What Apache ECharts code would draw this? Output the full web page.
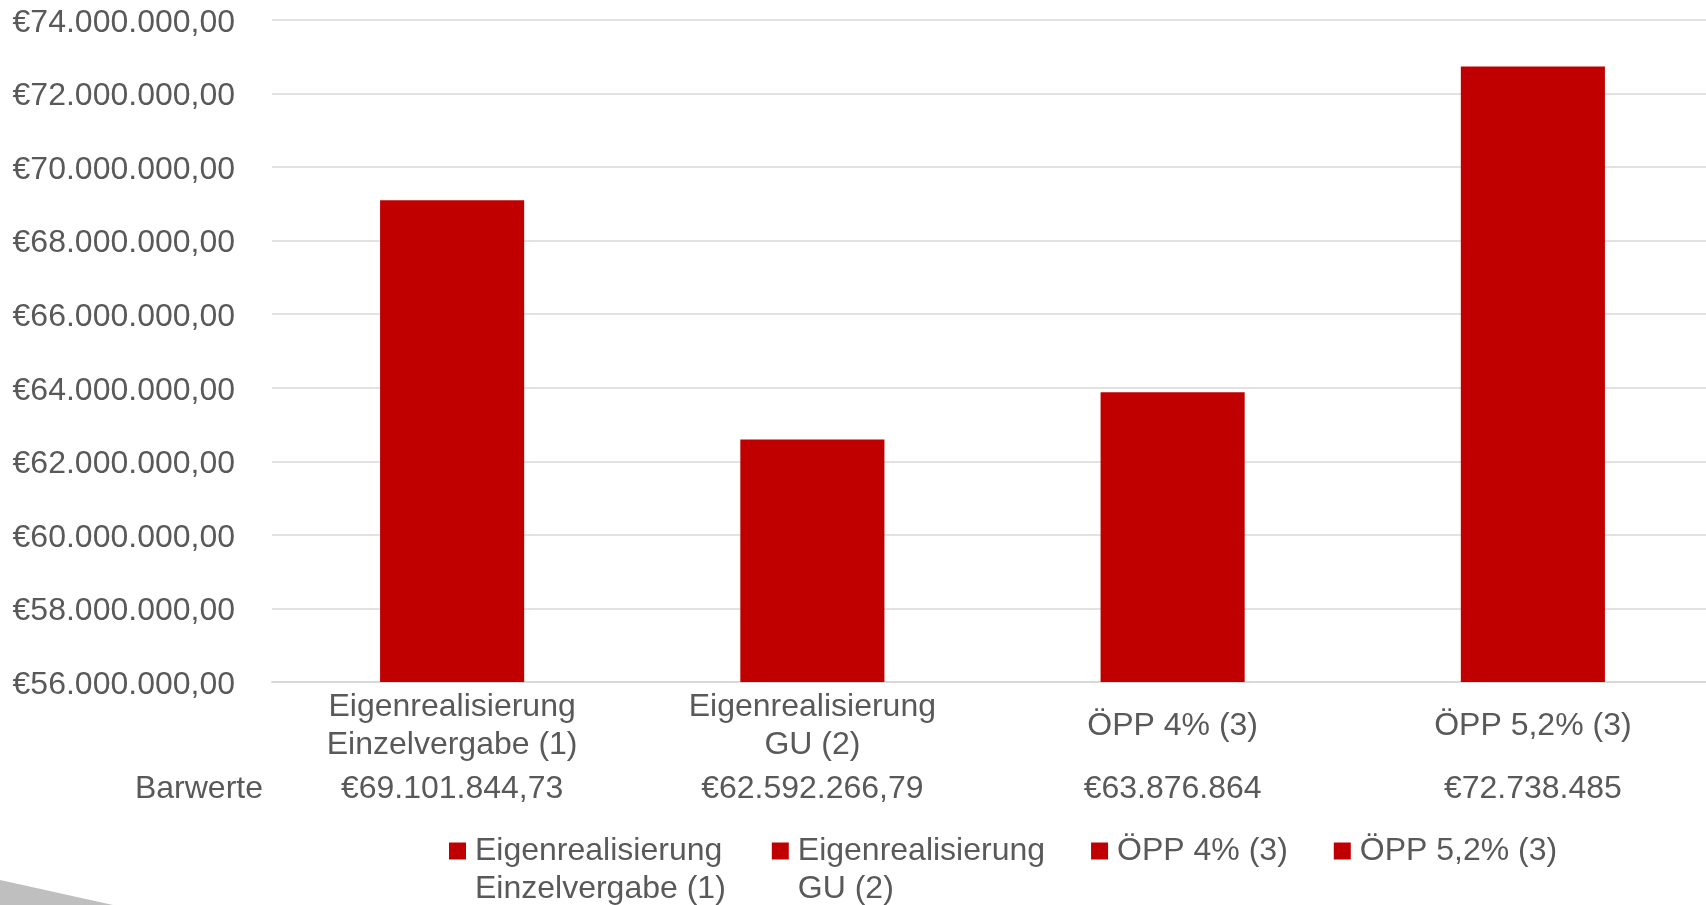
<!DOCTYPE html>
<html>
<head>
<meta charset="utf-8">
<title>Barwerte</title>
<script src="https://cdn.jsdelivr.net/npm/echarts@6/dist/echarts.min.js"></script>
<style>
  html, body { margin: 0; padding: 0; background: #ffffff; }
  #chart { width: 1706px; height: 905px; }
</style>
</head>
<body>
<div id="chart"></div>
<script>
// Variants compared (category labels, with line breaks as shown on the axis)
const categories = [
  'Eigenrealisierung\nEinzelvergabe (1)',
  'Eigenrealisierung\nGU (2)',
  'ÖPP 4% (3)',
  'ÖPP 5,2% (3)'
];
// Present values (Barwerte) in euro
const barwerte = [69101844.73, 62592266.79, 63876864, 72738485];
// Decimal places used when printing each present value
const barwertDecimals = [2, 2, 0, 0];
// Value axis range
const axisMin = 56000000;
const axisMax = 74000000;
const axisStep = 2000000;

const FONT = '"Liberation Sans", Arial, sans-serif';
const TEXT_COLOR = '#595959';
const GRID_COLOR = '#d9d9d9';
const BAR_COLOR = '#c00000';

// German number format with euro sign, e.g. €69.101.844,73
function euro(v, dec) {
  const parts = Math.abs(v).toFixed(dec).split('.');
  const intPart = parts[0].replace(/\B(?=(\d{3})+(?!\d))/g, '.');
  return '€' + intPart + (dec > 0 ? ',' + parts[1] : '');
}

// One series per variant, stacked so each bar sits centred in its category
const series = categories.map((name, i) => ({
  name: name,
  type: 'bar',
  stack: 'barwerte',
  barWidth: '40%',
  itemStyle: { color: BAR_COLOR },
  data: categories.map((c, j) => (j === i ? barwerte[i] : '-'))
}));

const chart = echarts.init(document.getElementById('chart'), null, { renderer: 'canvas' });

chart.setOption({
  backgroundColor: '#ffffff',
  animation: false,
  textStyle: { fontFamily: FONT },
  // plot area runs slightly past the right edge of the canvas
  grid: {
    left: 272, width: 1441, top: 20, bottom: 223,
    containLabel: false,
    outerBoundsMode: 'none'
  },
  xAxis: [
    {
      type: 'category',
      data: categories,
      axisTick: { show: false },
      axisLine: { lineStyle: { color: GRID_COLOR, width: 2 } },
      axisLabel: {
        color: TEXT_COLOR,
        fontFamily: FONT,
        fontSize: 32,
        lineHeight: 38,
        verticalAlign: 'middle',
        margin: 44,
        interval: 0
      }
    },
    {
      // data-table row with the present values under each category
      type: 'category',
      position: 'bottom',
      data: categories,
      axisTick: { show: false },
      axisLine: { show: false },
      splitLine: { show: false },
      axisLabel: {
        color: TEXT_COLOR,
        fontFamily: FONT,
        fontSize: 32,
        verticalAlign: 'middle',
        margin: 107,
        interval: 0,
        formatter: (value, index) => euro(barwerte[index], barwertDecimals[index])
      }
    }
  ],
  yAxis: {
    type: 'value',
    min: axisMin,
    max: axisMax,
    interval: axisStep,
    axisLine: { show: false },
    axisTick: { show: false },
    splitLine: { lineStyle: { color: GRID_COLOR, width: 1.5 } },
    axisLabel: {
      color: TEXT_COLOR,
      fontFamily: FONT,
      fontSize: 32,
      margin: 37,
      verticalAlign: 'middle',
      formatter: v => '{v|' + euro(v, 2) + '}',
      rich: {
        v: {
          color: TEXT_COLOR,
          fontFamily: FONT,
          fontSize: 32,
          padding: [6, 0, 0, 0]
        }
      }
    }
  },
  legend: {
    left: 444,
    top: 789,
    orient: 'horizontal',
    icon: 'rect',
    itemWidth: 17,
    itemHeight: 17,
    itemGap: 46,
    selectedMode: false,
    // a leading blank line keeps the swatch level with the first text line
    formatter: name => (name.indexOf('\n') >= 0 ? '\n' + name : name),
    textStyle: {
      color: TEXT_COLOR,
      fontFamily: FONT,
      fontSize: 32,
      lineHeight: 38,
      padding: [0, 0, 0, 4]
    },
    data: categories
  },
  graphic: [
    {
      type: 'text',
      x: 263,
      y: 789,
      style: {
        text: 'Barwerte',
        fill: TEXT_COLOR,
        font: '32px ' + FONT,
        align: 'right',
        verticalAlign: 'middle'
      }
    },
    {
      type: 'polygon',
      shape: { points: [[0, 880], [113, 905], [0, 905]] },
      style: { fill: '#bfbfbf' },
      z: 0
    }
  ],
  series: series
});
</script>
</body>
</html>
